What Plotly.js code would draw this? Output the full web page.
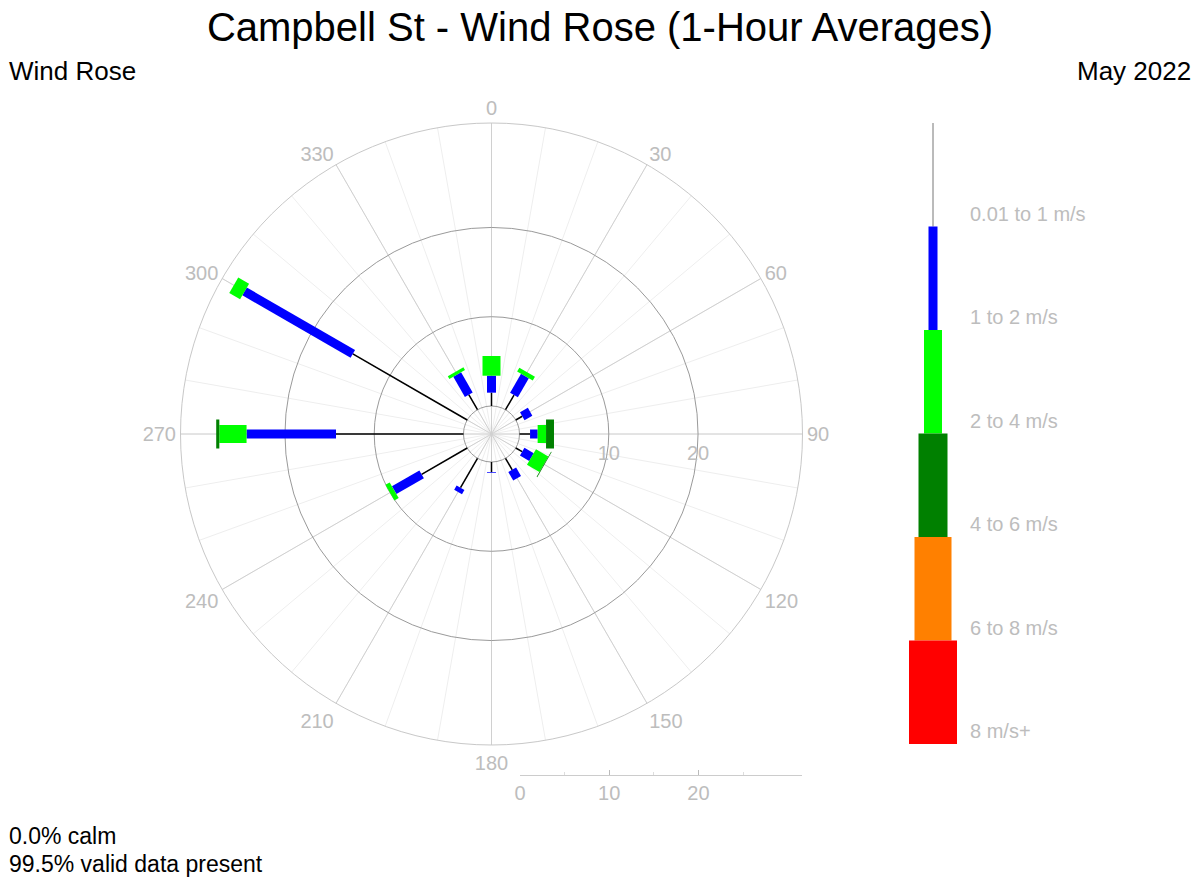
<!DOCTYPE html>
<html>
<head>
<meta charset="utf-8">
<script src="https://cdn.plot.ly/plotly-3.0.1.min.js"></script>
<style>html,body{margin:0;padding:0;background:#fff}#chart{width:1200px;height:880px}</style>
</head>
<body>
<div id="chart"></div>
<script>
// ---- data (percent frequency per direction and speed bin) ----
const directions = [0, 30, 60, 90, 120, 150, 180, 210, 240, 270, 300, 330];
const speedBins = ['0.01 to 1 m/s', '1 to 2 m/s', '2 to 4 m/s', '4 to 6 m/s', '6 to 8 m/s', '8 m/s+'];
const freq_0_1 = [1.49, 1.90, 0.84, 1.18, 0.83, 1.50, 1.12, 3.80, 5.90, 14.28, 14.80, 1.95];
const freq_1_2 = [1.90, 2.45, 1.01, 0.85, 1.20, 1.10, 0.08, 0.55, 3.55, 10.02, 14.00, 2.60];
const freq_2_4 = [2.21, 0.50, 0.00, 0.94, 1.60, 0.00, 0.00, 0.00, 0.55, 3.05, 1.40, 0.35];
const freq_4_6 = [0.00, 0.00, 0.00, 0.89, 0.08, 0.00, 0.00, 0.00, 0.00, 0.35, 0.00, 0.00];
const freq_6_8 = [0, 0, 0, 0, 0, 0, 0, 0, 0, 0, 0, 0];
const freq_8_up = [0, 0, 0, 0, 0, 0, 0, 0, 0, 0, 0, 0];
const angularTicks = [0, 30, 60, 90, 120, 150, 180, 210, 240, 270, 300, 330];
const radialTicks = [0, 10, 20];
const radialTickText = ['', '10', '20'];
const scaleTicks = [0, 10, 20];
const scaleMinorTicks = [5, 15, 25];
const calmText = '0.0% calm';
const validText = '99.5% valid data present';

// ---- styles ----
const binColors = ['#000000', '#0000ff', '#00ff00', '#008000', '#ff8000', '#ff0000'];
const legendColors = ['#777777', '#0000ff', '#00ff00', '#008000', '#ff8000', '#ff0000'];
const binWidths = [1.5, 9, 18, 29, 37, 48];
const legendWidths = [1, 9, 18, 29, 37, 48];
const FONT = 'Liberation Sans, Arial, sans-serif';
const GREY = '#bdbdbd';
const RMIN = -3.14, RMAX = 31.7;

const bins = [freq_0_1, freq_1_2, freq_2_4, freq_4_6, freq_6_8, freq_8_up];
const traces = [];
// trace registering the under-layer polar (minor grid)
traces.push({type: 'scatterpolar', subplot: 'polar', r: [], theta: [], mode: 'lines', hoverinfo: 'skip'});

let base = directions.map(() => 0);
bins.forEach((vals, b) => {
  const r = [], th = [];
  directions.forEach((d, k) => {
    if (vals[k] > 0) {
      r.push(base[k], base[k] + vals[k], null);
      th.push(d, d, null);
    }
    base[k] += vals[k];
  });
  traces.push({
    type: 'scatterpolar', subplot: 'polar2', mode: 'lines', r: r, theta: th,
    connectgaps: false, line: {color: binColors[b], width: binWidths[b]}, hoverinfo: 'skip'
  });
});

// legend key bars
speedBins.forEach((name, i) => {
  traces.push({
    type: 'scatter', xaxis: 'x2', yaxis: 'y2', mode: 'lines', x: [0, 0], y: [i, i + 1],
    line: {color: legendColors[i], width: legendWidths[i]}, hoverinfo: 'skip'
  });
});
// registers the radial scale axis below the rose
traces.push({type: 'scatter', xaxis: 'x3', yaxis: 'y3', mode: 'lines', x: [], y: [], hoverinfo: 'skip'});

const annotations = [
  {text: 'Wind Rose', xref: 'paper', yref: 'paper', x: 0.006, y: 1 - 71 / 880, xanchor: 'left', yanchor: 'middle', showarrow: false, font: {family: FONT, size: 26, color: '#000'}},
  {text: 'May 2022', xref: 'paper', yref: 'paper', x: 0.994, y: 1 - 71 / 880, xanchor: 'right', yanchor: 'middle', showarrow: false, font: {family: FONT, size: 26, color: '#000'}},
  {text: calmText, xref: 'paper', yref: 'paper', x: 0.006, y: 1 - 836 / 880, xanchor: 'left', yanchor: 'middle', showarrow: false, font: {family: FONT, size: 23, color: '#000'}},
  {text: validText, xref: 'paper', yref: 'paper', x: 0.006, y: 1 - 864 / 880, xanchor: 'left', yanchor: 'middle', showarrow: false, font: {family: FONT, size: 23, color: '#000'}}
];
speedBins.forEach((name, i) => {
  annotations.push({text: name, xref: 'paper', yref: 'y2', x: 968 / 1200, y: i + 1, xanchor: 'left', yanchor: 'bottom', showarrow: false, font: {family: FONT, size: 20, color: GREY}});
});

const polarDomain = {x: [180.5 / 1200, 802.5 / 1200], y: [1 - 745 / 880, 1 - 123 / 880]};

const layout = {
  width: 1200, height: 880,
  margin: {l: 0, r: 0, t: 0, b: 0},
  paper_bgcolor: '#ffffff', plot_bgcolor: 'rgba(0,0,0,0)',
  showlegend: false,
  font: {family: FONT},
  title: {text: 'Campbell St - Wind Rose (1-Hour Averages)', x: 0.5, xanchor: 'center', y: 1 - 27 / 880, yanchor: 'middle', yref: 'container', font: {family: FONT, size: 40, color: '#000'}},
  polar: {
    domain: polarDomain, bgcolor: '#ffffff',
    angularaxis: {rotation: 90, direction: 'clockwise', tickmode: 'linear', tick0: 0, dtick: 10, gridcolor: '#eeeeee', showline: false, showticklabels: false, ticks: ''},
    radialaxis: {range: [RMIN, RMAX], showgrid: false, showline: false, showticklabels: false, ticks: ''}
  },
  polar2: {
    domain: polarDomain, bgcolor: 'rgba(0,0,0,0)',
    angularaxis: {rotation: 90, direction: 'clockwise', tickmode: 'array', tickvals: angularTicks, ticktext: angularTicks.map(String), gridcolor: '#d0d0d0', showline: true, linecolor: '#c8c8c8', linewidth: 1, ticks: '', tickfont: {family: FONT, size: 20, color: GREY}},
    radialaxis: {range: [RMIN, RMAX], angle: 0, side: 'clockwise', tickmode: 'array', tickvals: radialTicks, ticktext: radialTickText, gridcolor: '#9a9a9a', showline: false, ticks: 'outside', ticklen: 1, tickcolor: 'rgba(0,0,0,0)', tickfont: {family: FONT, size: 20, color: GREY}}
  },
  xaxis2: {domain: [873 / 1200, 993 / 1200], range: [-1, 1], visible: false, fixedrange: true},
  yaxis2: {domain: [1 - 744 / 880, 1 - 123 / 880], range: [6, 0], visible: false, fixedrange: true},
  xaxis3: {domain: [520 / 1200, 802 / 1200], range: [0, 31.6], anchor: 'y3', side: 'bottom', showgrid: false, zeroline: false, showline: true, linecolor: '#cccccc', linewidth: 1,
    tickmode: 'array', tickvals: scaleTicks, ticktext: scaleTicks.map(String), ticks: 'inside', ticklen: 5, tickcolor: '#bbbbbb',
    minor: {tickmode: 'array', tickvals: scaleMinorTicks, ticks: 'inside', ticklen: 3, tickcolor: '#dddddd', showgrid: false},
    tickfont: {family: FONT, size: 20, color: GREY}, fixedrange: true},
  yaxis3: {domain: [1 - 775 / 880, 1 - 774 / 880], visible: false, fixedrange: true},
  annotations: annotations
};

Plotly.newPlot('chart', traces, layout, {staticPlot: true, displayModeBar: false});
</script>
</body>
</html>
